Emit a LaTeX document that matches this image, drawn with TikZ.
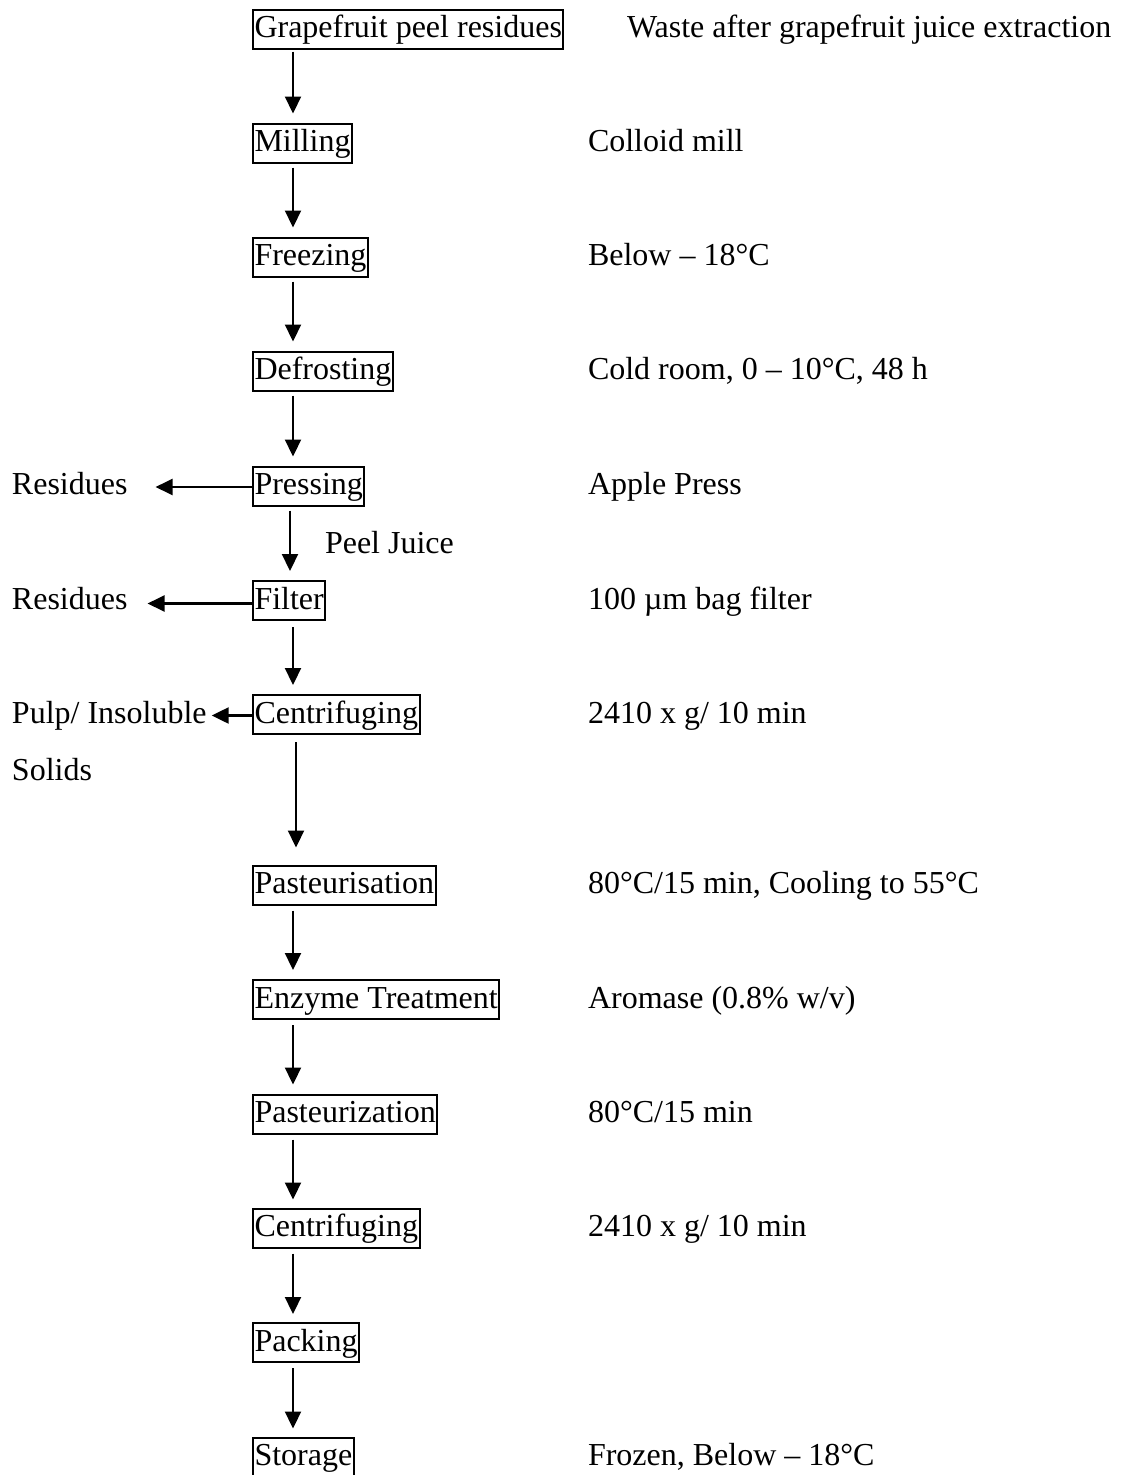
\documentclass[tikz,border=0pt]{standalone}
\usepackage{fontspec}
\setmainfont{Liberation Serif}
\usetikzlibrary{arrows.meta}
\begin{document}
\begin{tikzpicture}[x=1pt,y=-1pt,
  every node/.style={font=\fontsize{32}{38}\selectfont, outer sep=0pt},
  stepbox/.style={draw, line width=2pt, anchor=west, inner xsep=1.5pt, inner ysep=1pt, text height=27pt, text depth=10pt},
  note/.style={anchor=west, inner sep=0pt, text height=27pt, text depth=10pt},
  arr/.style={-{Triangle[length=17pt,width=16pt]}, line width=2.2pt}]
\useasboundingbox (0,0) rectangle (1120,1475);
% process steps
\node[stepbox] (s1) at (253,29) {Grapefruit peel residues};
\node[stepbox] (s2) at (253,143) {Milling};
\node[stepbox] (s3) at (253,257) {Freezing};
\node[stepbox] (s4) at (253,371) {Defrosting};
\node[stepbox] (s5) at (253,486) {Pressing};
\node[stepbox] (s6) at (253,600.5) {Filter};
\node[stepbox] (s7) at (253,714.5) {Centrifuging};
\node[stepbox] (s8) at (253,885) {Pasteurisation};
\node[stepbox] (s9) at (253,999.5) {Enzyme Treatment};
\node[stepbox] (s10) at (253,1114) {Pasteurization};
\node[stepbox] (s11) at (253,1228) {Centrifuging};
\node[stepbox] (s12) at (253,1342.5) {Packing};
\node[stepbox] (s13) at (253,1457) {Storage};
% conditions
\node[note] (c1) at (627,29) {Waste after grapefruit juice extraction};
\node[note] (c2) at (588,143) {Colloid mill};
\node[note] (c3) at (588,257) {Below – 18°C};
\node[note] (c4) at (588,371) {Cold room, 0 – 10°C, 48 h};
\node[note] (c5) at (588,486) {Apple Press};
\node[note] (c6) at (588,600.5) {100 µm bag filter};
\node[note] (c7) at (588,714.5) {2410 x g/ 10 min};
\node[note] (c8) at (588,885) {80°C/15 min, Cooling to 55°C};
\node[note] (c9) at (588,999.5) {Aromase (0.8\% w/v)};
\node[note] (c10) at (588,1114) {80°C/15 min};
\node[note] (c11) at (588,1228) {2410 x g/ 10 min};
\node[note] (c13) at (588,1457) {Frozen, Below – 18°C};
% side outputs
\node[note] (r1) at (12,486) {Residues};
\node[note] (r2) at (12,600.5) {Residues};
\node[note] (r3) at (12,714.5) {Pulp/ Insoluble};
\node[note] (r3b) at (12,771.5) {Solids};
\node[note] (pj) at (325,545) {Peel Juice};
% main flow arrows
\draw[arr] ([xshift=40pt,yshift=-3pt]s1.south west) -- ([xshift=40pt,yshift=10pt]s2.north west);
\draw[arr] ([xshift=40pt,yshift=-5pt]s2.south west) -- ([xshift=40pt,yshift=10pt]s3.north west);
\draw[arr] ([xshift=40pt,yshift=-5pt]s3.south west) -- ([xshift=40pt,yshift=10pt]s4.north west);
\draw[arr] ([xshift=40pt,yshift=-5pt]s4.south west) -- ([xshift=40pt,yshift=10pt]s5.north west);
\draw[arr] ([xshift=37pt,yshift=-5pt]s5.south west) -- ([xshift=37pt,yshift=10pt]s6.north west);
\draw[arr] ([xshift=40pt,yshift=-7pt]s6.south west) -- ([xshift=40pt,yshift=10pt]s7.north west);
\draw[arr] ([xshift=43pt,yshift=-8pt]s7.south west) -- ([xshift=43pt,yshift=18pt]s8.north west);
\draw[arr] ([xshift=40pt,yshift=-6pt]s8.south west) -- ([xshift=40pt,yshift=10pt]s9.north west);
\draw[arr] ([xshift=40pt,yshift=-6pt]s9.south west) -- ([xshift=40pt,yshift=10pt]s10.north west);
\draw[arr] ([xshift=40pt,yshift=-6pt]s10.south west) -- ([xshift=40pt,yshift=9pt]s11.north west);
\draw[arr] ([xshift=40pt,yshift=-6pt]s11.south west) -- ([xshift=40pt,yshift=9pt]s12.north west);
\draw[arr] ([xshift=40pt,yshift=-6pt]s12.south west) -- ([xshift=40pt,yshift=9pt]s13.north west);
% side arrows
\draw[arr] ([yshift=-1pt]s5.west) -- ([xshift=28pt,yshift=-1pt]r1.east);
\draw[arr] ([yshift=-3pt]s6.west) -- ([xshift=20pt,yshift=-3pt]r2.east);
\draw[arr] ([yshift=-1pt]s7.west) -- ([xshift=5pt,yshift=-1pt]r3.east);
\end{tikzpicture}
\end{document}
